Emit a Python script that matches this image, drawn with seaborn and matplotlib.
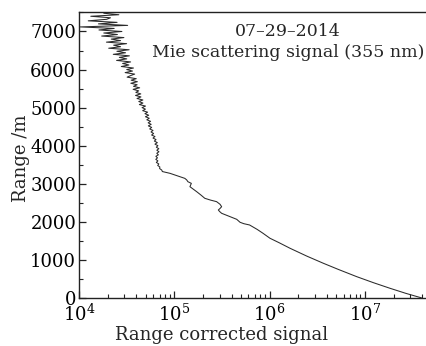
import matplotlib
matplotlib.use("Agg")
import matplotlib.pyplot as plt
import seaborn as sns
import pandas as pd
from matplotlib.ticker import MultipleLocator, LogLocator, FixedLocator

sns.set_style("ticks")
plt.rcParams['font.family'] = ['DejaVu Serif']
plt.rcParams['mathtext.fontset'] = 'dejavuserif'

# Range (m) and range-corrected signal (top to bottom)
range_m = [
    7480, 7440, 7400, 7360, 7320, 7280, 7240, 7200, 7160, 7120, 7080, 7040, 7000,
    6960, 6920, 6880, 6840, 6800, 6760, 6720, 6680, 6640, 6600, 6560, 6520, 6480,
    6440, 6400, 6360, 6320, 6280, 6240, 6200, 6160, 6120, 6080, 6040, 6000,
    5960, 5920, 5880, 5840, 5800, 5760, 5720, 5680, 5640, 5600, 5560, 5520,
    5480, 5440, 5400, 5360, 5320, 5280, 5240, 5200, 5160, 5120, 5080, 5040, 5000,
    4960, 4920, 4880, 4840, 4800, 4760, 4720, 4680, 4640, 4600, 4560, 4520,
    4480, 4440, 4400, 4360, 4320, 4280, 4240, 4200, 4160, 4120, 4080, 4040, 4000,
    3960, 3920, 3880, 3840, 3800, 3760, 3720, 3680, 3640, 3600, 3560, 3520,
    3480, 3440, 3400, 3360, 3320,
    3273, 3200, 3141, 3100, 3053, 3010, 2960, 2922, 2860, 2790, 2700, 2617,
    2570, 2529, 2460, 2397, 2350, 2310, 2270, 2223, 2150, 2065, 1987, 1950,
    1916, 1800, 1700, 1567, 1450, 1304, 1100, 911, 750, 559, 400, 254, 120, 0,
]
signal = [
    18200, 26200, 13300, 21400, 19500, 12500, 25100, 16000, 32400, 10300, 23400, 16200, 28200,
    18200, 25300, 17300, 29600, 21800, 27300, 19400, 31600, 23100, 27300, 20500, 33600, 25000,
    30800, 22900, 33800, 26500, 31700, 24800, 34800, 28700, 33400, 27800, 37300, 31700,
    36400, 30500, 38400, 34700, 32000, 39900, 35300, 41000, 35000, 40800, 37300, 43300,
    37000, 42300, 39500, 44500, 39200, 44700, 40600, 46800, 42400, 46900, 43000, 49900, 45900,
    49800, 46600, 52500, 49200, 53900, 49800, 54600, 51500, 56400, 53200, 57200, 53400,
    57900, 55200, 59800, 57000, 60700, 57800, 62700, 59800, 64300, 61800, 66400, 62700, 67300,
    64800, 68800, 65600, 69000, 65500, 68100, 64100, 66600, 64000, 67300, 64800, 68800,
    67000, 70600, 70100, 73800, 75000,
    90200, 110000, 129000, 135000, 139000, 151000, 148000, 146000, 158000, 172000, 191000, 209000,
    240000, 278000, 302000, 314000, 302000, 290000, 299000, 314000, 372000, 452000, 490000, 537000,
    617000, 741000, 851000, 1010000, 1260000, 1640000, 2450000, 3660000, 5250000, 8200000,
    12300000, 18300000, 26900000, 39400000,
]

title_lines = ["07\u201329\u20132014", "Mie scattering signal (355 nm)"]
x_label = "Range corrected signal"
y_label = "Range /m"

df = pd.DataFrame({"signal": signal, "range": range_m})

fig = plt.figure(figsize=(4.27, 3.46), dpi=100)
ax = fig.add_axes([0.185, 0.139, 0.815, 0.825])

sns.lineplot(data=df, x="signal", y="range", sort=False, estimator=None,
             color="#2a2a2a", linewidth=0.75, ax=ax)

ax.set_xscale("log")
ax.set_xlim(1e4, 4.49e7)
ax.set_ylim(0, 7500)

ax.xaxis.set_major_locator(FixedLocator([1e4, 1e5, 1e6, 1e7]))
ax.xaxis.set_minor_locator(LogLocator(base=10, subs=range(2, 10), numticks=20))
ax.yaxis.set_major_locator(MultipleLocator(1000))
ax.yaxis.set_minor_locator(MultipleLocator(500))
ax.set_xticklabels([r"$10^{4}$", r"$10^{5}$", r"$10^{6}$", r"$10^{7}$"])

ax.tick_params(axis="both", which="both", direction="in", top=False, right=False,
               labelsize=13, colors="#222222")
ax.tick_params(axis="both", which="major", length=5, width=0.9)
ax.tick_params(axis="y", which="major", pad=2)
ax.tick_params(axis="x", which="major", pad=4)
ax.tick_params(axis="both", which="minor", length=3, width=0.8)
for lbl in ax.get_xticklabels() + ax.get_yticklabels():
    lbl.set_color("black")

ax.spines["right"].set_visible(False)
for s in ["left", "bottom", "top"]:
    ax.spines[s].set_linewidth(1.0)
    ax.spines[s].set_color("#222222")

ax.set_xlabel(x_label, fontsize=13)
ax.set_ylabel(y_label, fontsize=13)
ax.xaxis.set_label_coords(0.41, -0.098)
ax.yaxis.set_label_coords(-0.14, 0.49)

ax.text(0.60, 0.933, title_lines[0], transform=ax.transAxes, ha="center", va="center", fontsize=12.5)
ax.text(0.60, 0.86, title_lines[1], transform=ax.transAxes, ha="center", va="center", fontsize=12.5)

fig.savefig("out.png", dpi=100)
